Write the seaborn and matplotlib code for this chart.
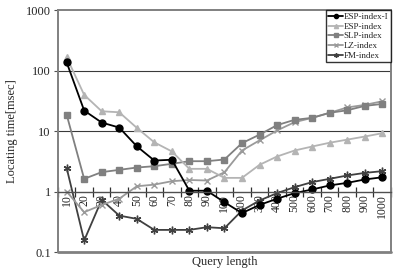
import seaborn as sns
import pandas as pd
import matplotlib.pyplot as plt

query_len = ['10', '20', '30', '40', '50', '60', '70', '80', '90', '100',
             '200', '300', '400', '500', '600', '700', '800', '900', '1000']

esp_index_i = [137, 21.8, 13.8, 11.4, 5.6, 3.25, 3.35, 1.03, 1.03, 0.665,
               0.44, 0.60, 0.76, 0.94, 1.08, 1.26, 1.39, 1.58, 1.72]
esp_index = [166, 39.6, 21.2, 20.4, 11.3, 6.5, 4.6, 2.37, 2.37, 1.68,
             1.68, 2.76, 3.79, 4.76, 5.54, 6.4, 7.2, 8.1, 9.2]
slp_index = [18.7, 1.62, 2.09, 2.28, 2.49, 2.62, 2.87, 3.17, 3.17, 3.38,
             6.3, 8.7, 12.5, 15.3, 16.5, 20.0, 22.0, 26.0, 28.0]
lz_index = [1.0, 0.455, 0.6, 0.76, 1.22, 1.30, 1.48, 1.55, 1.52, 2.08,
            4.76, 7.0, 10.2, 14.0, 16.5, 20.0, 24.5, 27.0, 31.0]
fm_index = [2.46, 0.155, 0.73, 0.40, 0.353, 0.232, 0.232, 0.232, 0.257, 0.247,
            0.485, 0.71, 0.94, 1.18, 1.43, 1.62, 1.84, 2.03, 2.17]

series = [
    ('ESP-index-I', esp_index_i, '#000000', 'o', 5),
    ('ESP-index', esp_index, '#b4b4b4', '^', 5),
    ('SLP-index', slp_index, '#808080', 's', 5),
    ('LZ-index', lz_index, '#9a9a9a', 'x', 4.5),
    ('FM-index', fm_index, '#404040', (6, 2, 0), 5.5),
]

sns.set_style('white')
plt.rcParams['font.family'] = ['Liberation Serif', 'DejaVu Serif']

fig = plt.figure(figsize=(3.99, 2.75), dpi=100)
ax = fig.add_axes([0.145, 0.0836, 0.835, 0.880])

for name, vals, col, mk, ms in reversed(series):
    df = pd.DataFrame({'q': query_len, 'v': vals})
    sns.pointplot(data=df, x='q', y='v', order=query_len, color=col,
                  marker=mk, markersize=ms, markeredgewidth=1.0,
                  linewidth=1.3, ax=ax, label=name)

ax.set_yscale('log')
ax.set_ylim(0.1, 1000)
ax.set_xlim(-0.5, 18.5)
ax.set_yticks([0.1, 1, 10, 100, 1000])
ax.set_yticklabels(['0.1', '1', '10', '100', '1000'])
ax.minorticks_off()

# gridlines
for g in [10, 100]:
    ax.axhline(g, color='#3a3a3a', lw=0.8, zorder=0)

# frame
for s in ['left', 'right', 'top']:
    ax.spines[s].set_color('#808080')
    ax.spines[s].set_linewidth(1.4)
ax.spines['bottom'].set_position(('data', 1))
ax.spines['bottom'].set_color('#505050')
ax.spines['bottom'].set_linewidth(1.0)
ax.axhline(0.1, color='#808080', lw=2.0, clip_on=False)

ax.tick_params(axis='y', length=3, color='#505050', labelsize=9, pad=2, left=True)
ax.tick_params(axis='x', which='major', length=0, labelsize=8.5, pad=2,
               labelrotation=90)
ax.set_xticks([i - 0.5 for i in range(20)], minor=True)
ax.tick_params(axis='x', which='minor', direction='inout', length=7,
               color='#303030', width=0.9, bottom=True)

ax.set_xlabel('Query length', fontsize=9)
ax.xaxis.set_label_coords(0.5, -0.015)
ax.set_ylabel('Locating time[msec]', fontsize=9)
ax.yaxis.set_label_coords(-0.12, 0.5)

h, l = ax.get_legend_handles_labels()
order = [n for n, *_ in series]
hl = dict(zip(l, h))
leg = ax.legend([hl[n] for n in order], order, loc='upper right',
                bbox_to_anchor=(1.0, 1.0), borderaxespad=0.0, fontsize=6.5,
                frameon=True, fancybox=False, handlelength=1.6,
                handletextpad=0.1, labelspacing=0.15, borderpad=0.3,
                markerscale=0.6)
leg.get_frame().set_edgecolor('black')
leg.get_frame().set_linewidth(1.0)

fig.savefig('out.png', dpi=100)
